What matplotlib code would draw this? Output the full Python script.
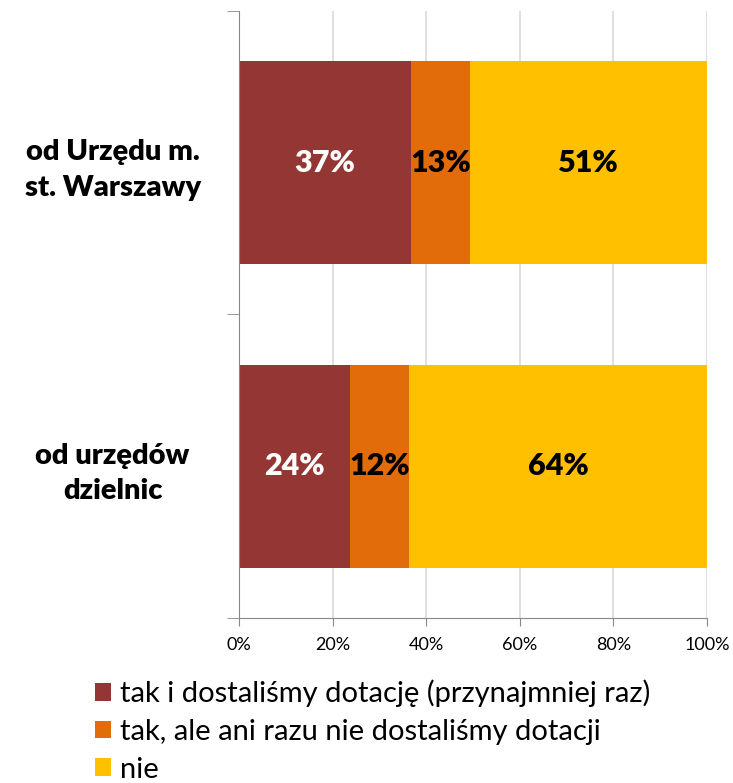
import matplotlib.pyplot as plt
import numpy as np
from matplotlib.ticker import FixedLocator, PercentFormatter

plt.rcParams['font.family'] = ['Lato', 'DejaVu Sans']

categories = ['od Urzędu m.\nst. Warszawy', 'od urzędów\ndzielnic']
series_names = ['tak i dostaliśmy dotację (przynajmniej raz)',
                'tak, ale ani razu nie dostaliśmy dotacji',
                'nie']
values = [[36.8, 23.7],   # tak i dostaliśmy
          [12.6, 12.6],   # tak, ale ani razu
          [50.6, 63.7]]   # nie
labels = [['37%', '24%'], ['13%', '12%'], ['51%', '64%']]
colors = ['#943634', '#E36C0A', '#FFC000']
label_colors = ['white', 'black', 'black']
x_ticks = [0, 20, 40, 60, 80, 100]

fig = plt.figure(figsize=(7.33, 7.83), dpi=100)
ax = fig.add_axes([0.326, 0.2107, 0.6385, 0.7753])

ypos = np.array([1, 0])  # first category on top
left = np.zeros(2)
handles = []
for vals, lab, c, tc, name in zip(values, labels, colors, label_colors, series_names):
    vals = np.array(vals)
    b = ax.barh(ypos, vals, left=left, height=0.67, color=c, label=name,
                edgecolor='none')
    handles.append(b)
    for y, v, l, t in zip(ypos, vals, left, lab):
        ax.text(l + v / 2, y, t, ha='center', va='center', color=tc,
                fontsize=22, fontweight='heavy')
    left += vals

ax.set_xlim(0, 100)
ax.set_ylim(-0.5, 1.5)
ax.set_xticks(x_ticks)
ax.xaxis.set_major_formatter(PercentFormatter(decimals=0))
ax.tick_params(axis='x', labelsize=13, length=6, color='#888888', pad=8)
ax.grid(axis='x', color='#d9d9d9', linewidth=1.2)
ax.set_axisbelow(True)

ax.set_yticks(ypos)
ax.set_yticklabels(categories, fontsize=21, fontweight='heavy',
                   ha='center', multialignment='center', linespacing=1.45)
ax.tick_params(axis='y', length=0, pad=91)
ax.yaxis.set_minor_locator(FixedLocator([-0.5, 0.5, 1.5]))
ax.tick_params(axis='y', which='minor', length=9, color='#888888')

for s in ['top', 'right']:
    ax.spines[s].set_visible(False)
for s in ['left', 'bottom']:
    ax.spines[s].set_color('#888888')

leg = fig.legend(handles=handles, loc='upper left',
                 bbox_to_anchor=(0.114, 0.147), frameon=False,
                 fontsize=21, handlelength=0.55, handleheight=0.55,
                 handletextpad=0.3, labelspacing=0.4, borderaxespad=0)

fig.savefig('out.png', dpi=100)
